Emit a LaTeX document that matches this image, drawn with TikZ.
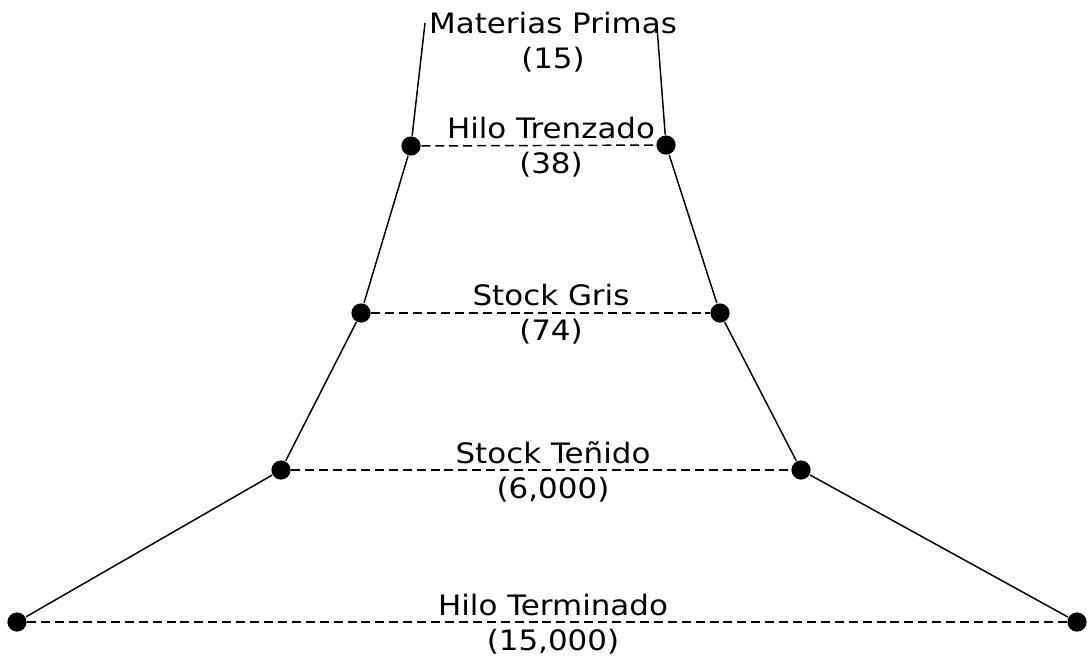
\documentclass[tikz,border=0pt]{standalone}
\usepackage{fontspec}
\setmainfont[FakeStretch=1.1]{DejaVu Sans}
\begin{document}
\begin{tikzpicture}[x=0.025cm,y=-0.025cm,line width=1.05pt,
    dot/.style={circle,fill,inner sep=0pt,minimum size=0.48cm},
    level/.style={dash pattern=on 6.4pt off 3.5pt},
    tagtext/.style={align=center,font=\fontsize{20}{24.8}\selectfont}]
        \useasboundingbox (0,0) rectangle (1089,664);

        % open ends at the top
        \coordinate (mpl) at (425,23);
        \coordinate (mpr) at (657,27);

        \node[dot] (htl) at (411,146) {};
        \node[dot] (htr) at (666,145) {};
        \node[dot] (sgl) at (361,313) {};
        \node[dot] (sgr) at (720,313) {};
        \node[dot] (stl) at (281,470) {};
        \node[dot] (str) at (801,470) {};
        \node[dot] (hfl) at (17,622) {};
        \node[dot] (hfr) at (1077,622) {};

        \draw (mpl) -- (htl) -- (sgl) -- (stl) -- (hfl);
        \draw (mpr) -- (htr) -- (sgr) -- (str) -- (hfr);

        \draw[level] (htl) -- (htr);
        \draw[level] (sgl) -- (sgr);
        \draw[level] (stl) -- (str);
        \draw[level] (hfl) -- (hfr);

        \node[tagtext] (mp) at (553,42) {Materias Primas\\(15)};
        \node[tagtext] (ht) at (551,147) {Hilo Trenzado\\(38)};
        \node[tagtext] (sg) at (551,314) {Stock Gris\\(74)};
        \node[tagtext] (st) at (553,472) {Stock Teñido\\(6,000)};
        \node[tagtext] (hf) at (553,624) {Hilo Terminado\\(15,000)};
\end{tikzpicture}
\end{document}
